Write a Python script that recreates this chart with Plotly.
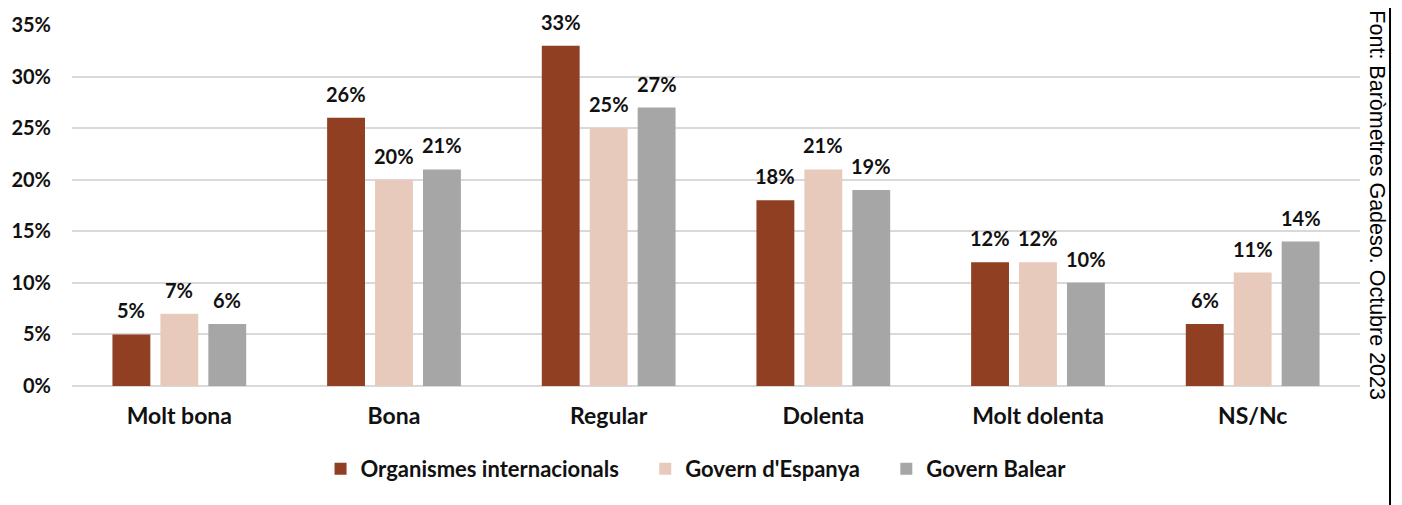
import plotly.graph_objects as go

categories = ["Molt bona", "Bona", "Regular", "Dolenta", "Molt dolenta", "NS/Nc"]
series_names = ["Organismes internacionals", "Govern d'Espanya", "Govern Balear"]
org_int = [5, 26, 33, 18, 12, 6]
gov_esp = [7, 20, 25, 21, 12, 11]
gov_bal = [6, 21, 27, 19, 10, 14]
tick_vals = [0, 5, 10, 15, 20, 25, 30, 35]
tick_text = ["0%", "5%", "10%", "15%", "20%", "25%", "30%", "35%"]
source_text = "Font: Baròmetres Gadeso. Octubre 2023"

colors = ["#903F23", "#E7CABC", "#A6A6A6"]
FONT = "Lato"
TXT = "#111111"
PAD = "\u00a0" * 4  # spacing between legend entries

fig = go.Figure()
all_series = [org_int, gov_esp, gov_bal]
for k, (name, vals, col) in enumerate(zip(series_names, all_series, colors)):
    fig.add_trace(go.Bar(
        x=categories, y=vals, name=name + (PAD if k < 2 else ""),
        marker=dict(color=col, line=dict(width=0)),
    ))

# data labels
for i, vals in enumerate(all_series):
    for cat, v in zip(categories, vals):
        fig.add_annotation(x=cat, y=v, text=f"{v}%", showarrow=False,
                           xanchor="center", yanchor="bottom",
                           xshift=(i - 1) * 48, yshift=10,
                           font=dict(family=FONT, size=20, color=TXT, weight="bold"))

fig.update_layout(
    width=1402, height=505,
    margin=dict(l=64, r=50, t=17, b=127),
    paper_bgcolor="white", plot_bgcolor="white",
    barmode="group", bargap=0.33, bargroupgap=0.21,
    font=dict(family=FONT, size=20, color=TXT, weight="bold"),
    legend=dict(orientation="h", x=0.4845, xanchor="center", y=-0.23, yanchor="middle",
                font=dict(family=FONT, size=22, color=TXT, weight="bold"),
                tracegroupgap=0),
    xaxis=dict(showgrid=False, showline=False, ticks="", automargin=False,
               ticklabelstandoff=14,
               tickfont=dict(family=FONT, size=23, color=TXT, weight="bold")),
    yaxis=dict(range=[0, 35], tickvals=tick_vals, ticktext=tick_text,
               showgrid=True, gridcolor="#D9D9D9", gridwidth=1.5,
               zeroline=True, zerolinecolor="#D9D9D9", zerolinewidth=1.5,
               showline=False, ticks="", ticklabelstandoff=20, automargin=False,
               tickfont=dict(family=FONT, size=20, color=TXT, weight="bold")),
    showlegend=True,
)

fig.add_shape(type="line", xref="paper", yref="paper",
              x0=1.0233, x1=1.0233, y0=-0.4, y1=1.06,
              line=dict(color="black", width=2))
fig.add_annotation(text=source_text, xref="paper", yref="paper",
                   x=1.0135, y=1.045, xanchor="center", yanchor="top",
                   textangle=90, showarrow=False,
                   font=dict(family="Liberation Sans", size=21.5, color="black", weight="normal"))

fig.write_html("out.html")
